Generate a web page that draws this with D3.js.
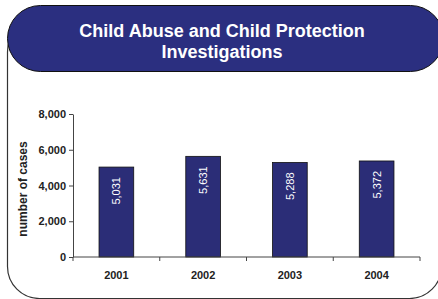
<!DOCTYPE html>
<html>
<head>
<meta charset="utf-8">
<script src="https://cdn.jsdelivr.net/npm/d3@7"></script>
<style>
  body { margin: 0; background: #fff; }
  svg { display: block; font-family: "Liberation Sans", Arial, sans-serif; }
</style>
</head>
<body>
<div id="chart"></div>
<script>
// Data
const years = ["2001", "2002", "2003", "2004"];
const cases = [5031, 5631, 5288, 5372];
const yTicks = [0, 2000, 4000, 6000, 8000];
const titleLines = ["Child Abuse and Child Protection", "Investigations"];

const W = 438, H = 299;
const plot = { left: 73, right: 420, top: 114, bottom: 257 };

const svg = d3.select("#chart").append("svg")
  .attr("width", W)
  .attr("height", H);

// Frame behind everything
svg.append("rect")
  .attr("x", 7.5)
  .attr("y", 20)
  .attr("width", 434)
  .attr("height", 278.5)
  .attr("rx", 32)
  .attr("fill", "#fff")
  .attr("stroke", "#333")
  .attr("stroke-width", 1.2);

// Title pill
svg.append("rect")
  .attr("x", 7.5)
  .attr("y", 5.5)
  .attr("width", 436)
  .attr("height", 66)
  .attr("rx", 33)
  .attr("fill", "#2b2f80")
  .attr("stroke", "#111")
  .attr("stroke-width", 1);

svg.append("g")
  .selectAll("text")
  .data(titleLines)
  .enter()
  .append("text")
  .attr("x", 222)
  .attr("y", (d, i) => 37 + i * 21)
  .attr("text-anchor", "middle")
  .attr("fill", "#fff")
  .attr("font-weight", "bold")
  .attr("font-size", "18px")
  .text((d) => d);

// Scales
const x = d3.scaleBand().domain(years).range([plot.left, plot.right]);
const xBar = d3.scaleBand().domain(years).range([plot.left, plot.right])
  .paddingInner(0.6).paddingOuter(0.3);
const y = d3.scaleLinear().domain([0, 8000]).range([plot.bottom, plot.top]);

// Y axis
const yAxis = svg.append("g")
  .attr("transform", "translate(" + plot.left + ",0)")
  .call(d3.axisLeft(y).tickValues(yTicks).tickFormat(d3.format(",")).tickSize(4).tickSizeOuter(0));
yAxis.select(".domain").attr("stroke", "#444");
yAxis.selectAll(".tick line").attr("stroke", "#444");
yAxis.selectAll("text")
  .attr("font-family", "Liberation Sans, Arial, sans-serif")
  .attr("font-size", "11px")
  .attr("font-weight", "bold")
  .attr("fill", "#222")
  .attr("x", -7);

// Bars
svg.append("g")
  .selectAll("rect")
  .data(cases)
  .enter()
  .append("rect")
  .attr("x", (d, i) => xBar(years[i]))
  .attr("y", (d) => y(d))
  .attr("width", xBar.bandwidth())
  .attr("height", (d) => plot.bottom - y(d))
  .attr("fill", "#2b2d77")
  .attr("stroke", "#111")
  .attr("stroke-width", 0.8);

// Bar value labels (rotated)
svg.append("g")
  .selectAll("text")
  .data(cases)
  .enter()
  .append("text")
  .attr("transform", (d, i) =>
    "translate(" + (xBar(years[i]) + xBar.bandwidth() / 2 + 4) + "," + (y(d) + 10) + ") rotate(-90)")
  .attr("text-anchor", "end")
  .attr("fill", "#fff")
  .attr("font-size", "11px")
  .text((d) => d3.format(",")(d));

// X axis with ticks at category boundaries
const xAxisG = svg.append("g")
  .attr("transform", "translate(0," + plot.bottom + ")");
xAxisG.append("line")
  .attr("x1", plot.left).attr("x2", plot.right)
  .attr("stroke", "#444");
xAxisG.selectAll(".bound")
  .data(years.concat(["end"]))
  .enter()
  .append("line")
  .attr("x1", (d, i) => plot.left + i * x.step())
  .attr("x2", (d, i) => plot.left + i * x.step())
  .attr("y1", 0).attr("y2", 4)
  .attr("stroke", "#444");
xAxisG.selectAll("text")
  .data(years)
  .enter()
  .append("text")
  .attr("x", (d) => x(d) + x.bandwidth() / 2)
  .attr("y", 22)
  .attr("text-anchor", "middle")
  .attr("font-size", "11px")
  .attr("font-weight", "bold")
  .attr("fill", "#222")
  .text((d) => d);

// Y axis title
svg.append("text")
  .attr("transform", "translate(27,189) rotate(-90)")
  .attr("text-anchor", "middle")
  .attr("font-size", "12px")
  .attr("font-weight", "bold")
  .attr("fill", "#222")
  .text("number of cases");
</script>
</body>
</html>
